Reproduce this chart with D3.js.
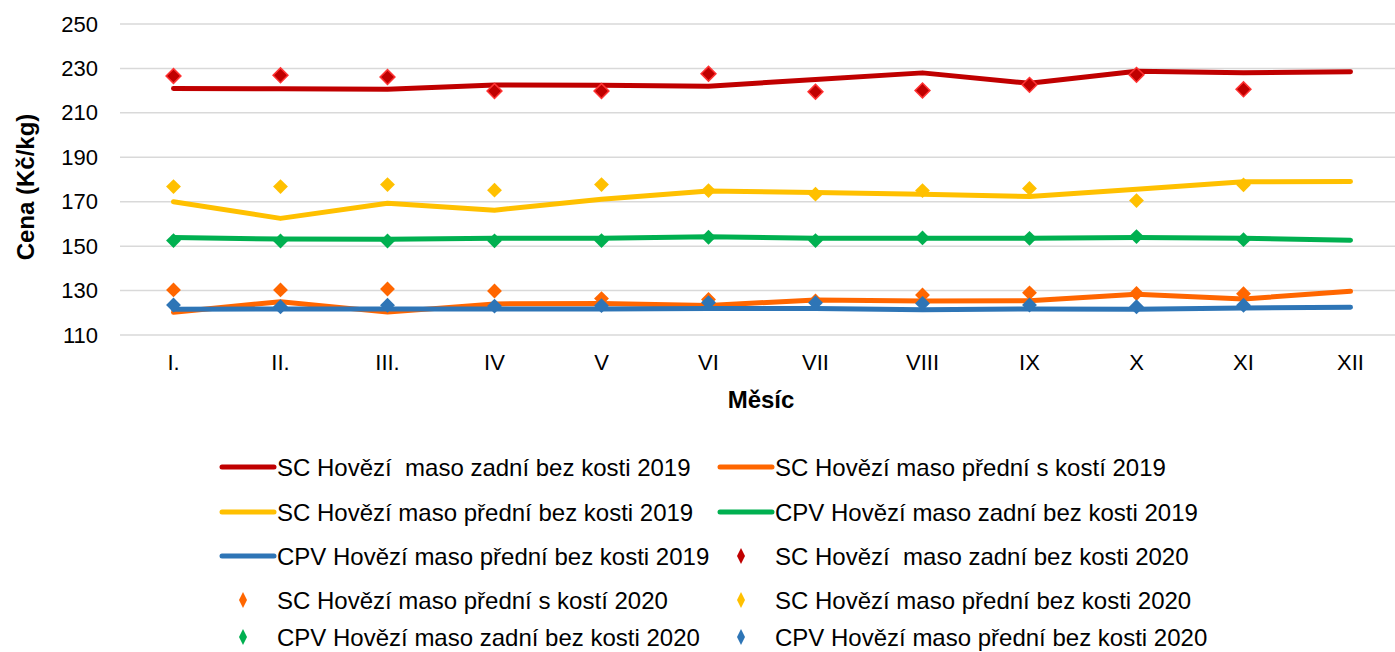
<!DOCTYPE html>
<html>
<head>
<meta charset="utf-8">
<script src="https://cdn.jsdelivr.net/npm/d3@7"></script>
<style>
  body { margin: 0; background: #fff; }
  text { font-family: "Liberation Sans", Arial, sans-serif; fill: #000; white-space: pre; }
</style>
</head>
<body>
<div class="chart"></div>
<script>
const months = ["I.", "II.", "III.", "IV", "V", "VI", "VII", "VIII", "IX", "X", "XI", "XII"];
const yTicks = [110, 130, 150, 170, 190, 210, 230, 250];

// 2019 - lines
const scZadni2019 = [221, 220.8, 220.6, 222.5, 222.4, 222, 225, 228, 223.3, 228.7, 228.1, 228.5];
const scPredniS2019 = [120.2, 125, 120.3, 124, 124.2, 123.3, 125.8, 125.3, 125.4, 128.3, 126.2, 129.7];
const scPredniBez2019 = [170, 162.5, 169.3, 166.2, 171.1, 174.8, 174.2, 173.4, 172.3, 175.6, 179, 179.1];
const cpvZadni2019 = [153.9, 153.2, 153.1, 153.5, 153.6, 154.2, 153.5, 153.5, 153.5, 153.9, 153.5, 152.7];
const cpvPredni2019 = [121.6, 121.7, 121.7, 121.7, 121.7, 121.9, 121.9, 121.4, 121.7, 121.6, 122.2, 122.5];

// 2020 - markers
const scZadni2020 = [226.6, 226.9, 226.1, 219.8, 219.8, 227.6, 219.5, 220.1, 222.6, 227.1, 220.6, null];
const scPredniS2020 = [130.3, 130.3, 130.7, 129.8, 126.4, 126, 125.3, 128, 129, 128.7, 128.6, null];
const scPredniBez2020 = [176.8, 176.8, 177.7, 175.2, 177.7, 175, 173.4, 175, 176, 170.5, 177.6, null];
const cpvZadni2020 = [152.5, 152.3, 152.3, 152.4, 152.5, 154, 152.5, 153.7, 153.5, 154.3, 152.9, null];
const cpvPredni2020 = [123.5, 122.7, 123.4, 123, 123.2, 124.6, 124.5, 124.2, 123.5, 122.7, 123.4, null];

const lineSeries = [
  {name: "SC Hovězí  maso zadní bez kosti 2019", values: scZadni2019, color: "#C00000"},
  {name: "SC Hovězí maso přední s kostí 2019", values: scPredniS2019, color: "#FF6600"},
  {name: "SC Hovězí maso přední bez kosti 2019", values: scPredniBez2019, color: "#FFC000"},
  {name: "CPV Hovězí maso zadní bez kosti 2019", values: cpvZadni2019, color: "#00B050"},
  {name: "CPV Hovězí maso přední bez kosti 2019", values: cpvPredni2019, color: "#2E75B6"}
];
const markerSeries = [
  {name: "SC Hovězí  maso zadní bez kosti 2020", values: scZadni2020, color: "#C00000", stroke: "#FF3333"},
  {name: "SC Hovězí maso přední s kostí 2020", values: scPredniS2020, color: "#FF6600", stroke: "none"},
  {name: "SC Hovězí maso přední bez kosti 2020", values: scPredniBez2020, color: "#FFC000", stroke: "none"},
  {name: "CPV Hovězí maso zadní bez kosti 2020", values: cpvZadni2020, color: "#00B050", stroke: "none"},
  {name: "CPV Hovězí maso přední bez kosti 2020", values: cpvPredni2020, color: "#2E75B6", stroke: "none"}
];

const width = 1395;
const height = 652;
const svg = d3.select('.chart')
  .append('svg')
  .attr('width', width)
  .attr('height', height)

const x = d3.scaleBand()
  .domain(months)
  .range([120, 1404]);
const y = d3.scaleLinear()
  .domain([110, 250])
  .range([335, 24]);

// grid
svg.append("g")
  .selectAll("line")
  .data(yTicks)
  .enter()
  .append("line")
  .attr("x1", 120)
  .attr("x2", width)
  .attr("y1", d => y(d))
  .attr("y2", d => y(d))
  .attr("stroke", "#D9D9D9")
  .attr("stroke-width", 1.5)

// y axis
const yAxis = svg.append("g")
  .attr("transform", "translate(108,0)")
  .call(d3.axisLeft(y).tickValues(yTicks).tickSize(0).tickPadding(10))
yAxis.select(".domain").remove()
yAxis.selectAll("text")
  .style("font-size", "22px")
  .attr("fill", "#000")

// x axis
const xAxis = svg.append("g")
  .attr("transform", "translate(0,335)")
  .call(d3.axisBottom(x).tickSize(0).tickPadding(19))
xAxis.select(".domain").remove()
xAxis.selectAll("text")
  .style("font-size", "22px")
  .attr("fill", "#000")

// axis titles
svg.append("text")
  .attr("transform", "translate(34,187) rotate(-90)")
  .attr("text-anchor", "middle")
  .style("font-size", "24px")
  .attr("font-weight", "bold")
  .text("Cena (Kč/kg)")

svg.append("text")
  .attr("x", 761)
  .attr("y", 408)
  .attr("text-anchor", "middle")
  .style("font-size", "24px")
  .attr("font-weight", "bold")
  .text("Měsíc")

const cx = d => x(d) + x.bandwidth() / 2;

// lines
const line = d3.line()
  .x((d, i) => cx(months[i]))
  .y(d => y(d));

svg.append("g")
  .selectAll("path")
  .data(lineSeries)
  .enter()
  .append("path")
  .attr("d", d => line(d.values))
  .attr("fill", "none")
  .attr("stroke", d => d.color)
  .attr("stroke-width", 5)
  .attr("stroke-linecap", "round")
  .attr("stroke-linejoin", "round")

// diamonds
const diamond = d3.symbol().type(d3.symbolSquare).size(110);
markerSeries.forEach(s => {
  svg.append("g")
    .selectAll("path")
    .data(s.values.map((v, i) => ({v: v, m: months[i]})).filter(d => d.v != null))
    .enter()
    .append("path")
    .attr("d", diamond)
    .attr("transform", d => `translate(${cx(d.m)},${y(d.v)}) rotate(45)`)
    .attr("fill", s.color)
    .attr("stroke", s.stroke)
    .attr("stroke-width", 1.5)
})

// legend
const legendItems = [];
lineSeries.concat(markerSeries).forEach((s, i) => {
  legendItems.push({s: s, isLine: i < 5, col: i % 2, row: Math.floor(i / 2)});
});
const colX = [220, 718];
const rowY = [467, 512, 556, 600, 637];

const leg = svg.append("g")
  .selectAll("g")
  .data(legendItems)
  .enter()
  .append("g")
  .attr("transform", d => `translate(${colX[d.col]},${rowY[d.row]})`)

leg.filter(d => d.isLine)
  .append("line")
  .attr("x1", 2)
  .attr("x2", 54)
  .attr("y1", 0)
  .attr("y2", 0)
  .attr("stroke", d => d.s.color)
  .attr("stroke-width", 5)
  .attr("stroke-linecap", "round")

leg.filter(d => !d.isLine)
  .append("path")
  .attr("d", "M23,-8 L27,0 L23,8 L19,0 Z")
  .attr("fill", d => d.s.color)

leg.append("text")
  .attr("x", 57)
  .attr("y", 9)
  .style("font-size", "24px")
  .text(d => d.s.name)
</script>
</body>
</html>
